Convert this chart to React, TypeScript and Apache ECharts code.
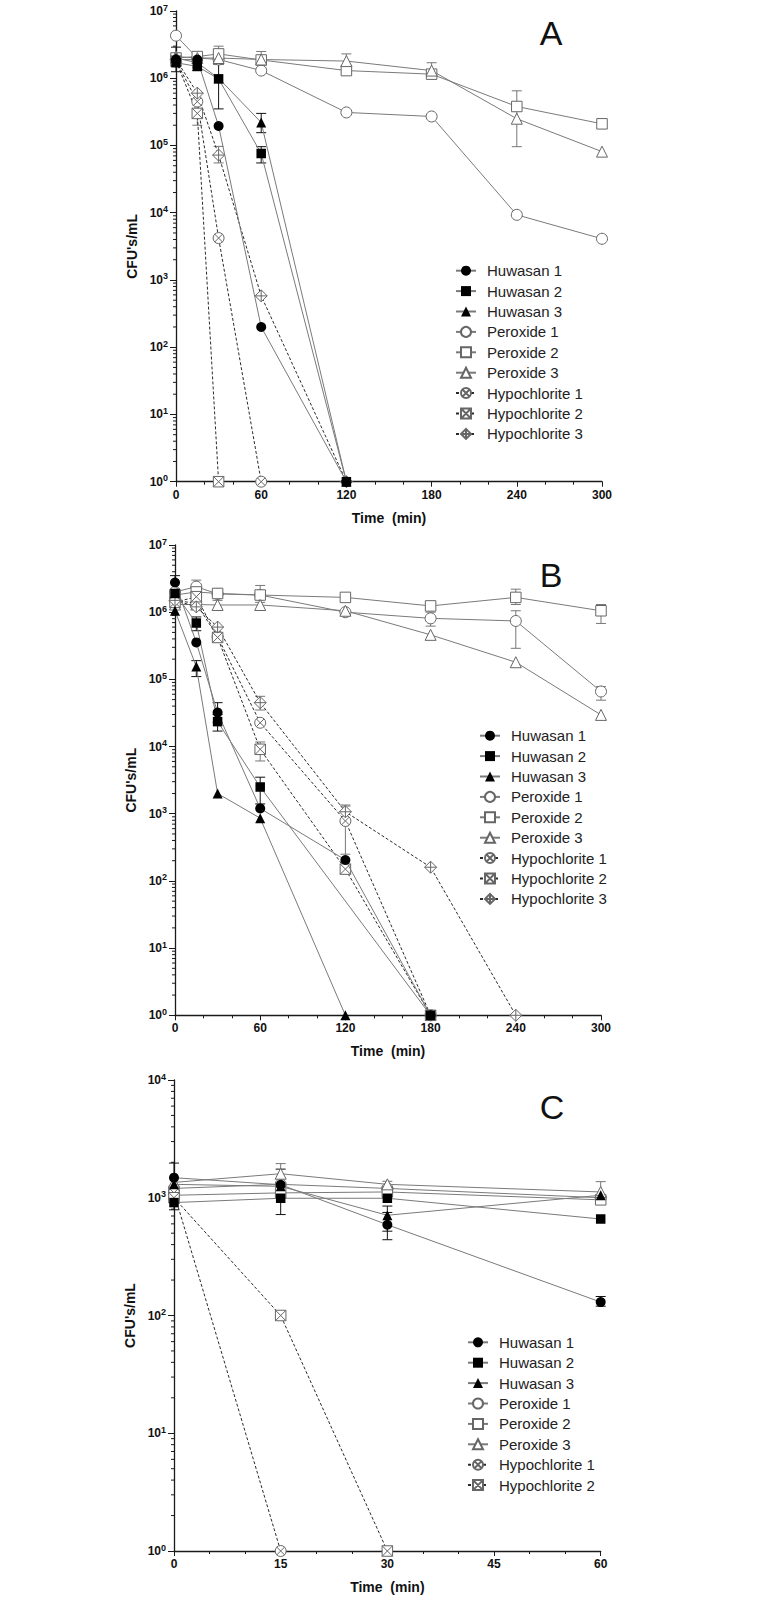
import React, { useEffect, useRef } from 'react';
import * as echarts from 'echarts';

const FONT = '"Liberation Sans", Arial, Helvetica, sans-serif';

const SERIES_NAMES = ['Huwasan 1', 'Huwasan 2', 'Huwasan 3', 'Peroxide 1', 'Peroxide 2', 'Peroxide 3', 'Hypochlorite 1', 'Hypochlorite 2', 'Hypochlorite 3'];
const SERIES_NAMES_C = ['Huwasan 1', 'Huwasan 2', 'Huwasan 3', 'Peroxide 1', 'Peroxide 2', 'Peroxide 3', 'Hypochlorite 1', 'Hypochlorite 2'];
const PANEL_LABELS = ['A', 'B', 'C'];
const X_AXIS_NAME = 'Time  (min)';
const Y_AXIS_NAME = "CFU's/mL";

// ---------- Panel A ----------
const timesA = [0, 15, 30, 60, 120, 180, 240, 300];
const huwasan1A = [1.9e6, 1.9e6, 1.95e5, 200, 1, null, null, null];
const huwasan2A = [1.7e6, 1.5e6, 9.8e5, 7.6e4, 1, null, null, null];
const huwasan3A = [2.0e6, 1.7e6, 1.0e6, 2.2e5, 1, null, null, null];
const peroxide1A = [4.3e6, 2.0e6, 1.9e6, 1.3e6, 3.1e5, 2.7e5, 9.3e3, 4.1e3];
const peroxide2A = [2.0e6, 2.1e6, 2.3e6, 1.87e6, 1.3e6, 1.15e6, 3.8e5, 2.1e5];
const peroxide3A = [2.1e6, 2.0e6, 2.0e6, 1.9e6, 1.8e6, 1.3e6, 2.5e5, 8.1e4];
const hypochlorite1A = [1.8e6, 4.5e5, 4.2e3, 1, null, null, null, null];
const hypochlorite2A = [1.8e6, 3.0e5, 1, null, null, null, null, null];
const hypochlorite3A = [1.9e6, 6.0e5, 7.2e4, 580, 1, null, null, null];
// [series, time, low, high]
const errorsA: [string, number, number, number][] = [
  ['Huwasan 2', 0, 1.25e6, 2.9e6],
  ['Huwasan 1', 15, 1.3e6, 2.2e6],
  ['Hypochlorite 2', 15, 2.0e5, 4.0e5],
  ['Peroxide 2', 30, 1.6e6, 3.0e6],
  ['Huwasan 2', 30, 3.5e5, 1.6e6],
  ['Hypochlorite 3', 30, 5.5e4, 9.7e4],
  ['Peroxide 2', 60, 1.4e6, 2.5e6],
  ['Huwasan 3', 60, 1.55e5, 3.0e5],
  ['Huwasan 2', 60, 5.5e4, 9.6e4],
  ['Peroxide 3', 120, 1.3e6, 2.3e6],
  ['Peroxide 2', 180, 1.0e6, 1.7e6],
  ['Peroxide 2', 240, 9.6e4, 6.5e5],
];

// ---------- Panel B ----------
const timesB = [0, 15, 30, 60, 120, 180, 240, 300];
const huwasan1B = [2.77e6, 3.55e5, 3.2e4, 1.2e3, 2.05e2, 1, null, null];
const huwasan2B = [1.9e6, 6.9e5, 2.35e4, 2.5e3, null, 1, null, null];
const huwasan3B = [1.05e6, 1.55e5, 2.0e3, 8.6e2, 1, null, null, null];
const peroxide1B = [2.0e6, 2.4e6, 1.87e6, 1.8e6, 1.0e6, 8.1e5, 7.4e5, 6.6e4];
const peroxide2B = [1.8e6, 2.0e6, 1.9e6, 1.8e6, 1.66e6, 1.24e6, 1.66e6, 1.05e6];
const peroxide3B = [1.3e6, 1.3e6, 1.28e6, 1.28e6, 1.05e6, 4.6e5, 1.8e5, 2.96e4];
const hypochlorite1B = [1.5e6, 1.35e6, 4.3e5, 2.26e4, 7.8e2, 1, null, null];
const hypochlorite2B = [1.4e6, 1.7e6, 4.2e5, 9.1e3, 1.5e2, 1, null, null];
const hypochlorite3B = [1.5e6, 1.2e6, 6.0e5, 4.5e4, 1.07e3, 1.6e2, 1, null];
const errorsB: [string, number, number, number][] = [
  ['Huwasan 1', 0, 2.1e6, 3.5e6],
  ['Peroxide 1', 15, 1.8e6, 3.0e6],
  ['Huwasan 2', 15, 5.3e5, 8.5e5],
  ['Huwasan 3', 15, 1.1e5, 1.9e5],
  ['Peroxide 1', 30, 1.5e6, 2.2e6],
  ['Huwasan 1', 30, 2.3e4, 4.5e4],
  ['Huwasan 2', 30, 1.7e4, 3.0e4],
  ['Peroxide 2', 60, 1.4e6, 2.5e6],
  ['Hypochlorite 3', 60, 3.5e4, 5.6e4],
  ['Hypochlorite 2', 60, 6.1e3, 1.17e4],
  ['Huwasan 2', 60, 1.4e3, 3.5e3],
  ['Hypochlorite 3', 120, 8.0e2, 1.35e3],
  ['Hypochlorite 1', 120, 2.5e2, 1.3e3],
  ['Peroxide 1', 180, 6.2e5, 1.0e6],
  ['Peroxide 2', 240, 1.3e6, 2.2e6],
  ['Peroxide 1', 240, 2.9e5, 1.05e6],
  ['Peroxide 2', 300, 6.8e5, 1.3e6],
  ['Peroxide 1', 300, 4.9e4, 7.8e4],
];

// ---------- Panel C ----------
const timesC = [0, 15, 30, 60];
const huwasan1C = [1.48e3, 1.29e3, 5.9e2, 1.3e2];
const huwasan2C = [9.1e2, 9.9e2, 9.9e2, 6.6e2];
const huwasan3C = [1.3e3, 1.25e3, 7.1e2, 1.05e3];
const peroxide1C = [1.2e3, 1.3e3, 1.2e3, 1.0e3];
const peroxide2C = [1.05e3, 1.1e3, 1.12e3, 9.6e2];
const peroxide3C = [1.35e3, 1.6e3, 1.3e3, 1.12e3];
const hypochlorite1C = [1.1e3, 1, null, null];
const hypochlorite2C = [1.0e3, 100, 1, null];
const errorsC: [string, number, number, number][] = [
  ['Huwasan 1', 0, 1.2e3, 1.97e3],
  ['Huwasan 2', 0, 7.9e2, 1.05e3],
  ['Peroxide 3', 15, 1.3e3, 1.95e3],
  ['Huwasan 1', 15, 1.1e3, 1.75e3],
  ['Huwasan 2', 15, 7.2e2, 1.25e3],
  ['Peroxide 1', 30, 1.15e3, 1.38e3],
  ['Huwasan 1', 30, 4.4e2, 7.5e2],
  ['Huwasan 3', 30, 5.2e2, 8.5e2],
  ['Peroxide 3', 60, 8.9e2, 1.37e3],
  ['Huwasan 1', 60, 1.2e2, 1.45e2],
];

// x-axis ticks
const xMaxA = 300, xStepA = 60;
const xMaxB = 300, xStepB = 60;
const xMaxC = 60, xStepC = 15;
const yMaxA = 1e7, yMaxB = 1e7, yMaxC = 1e4;

// ---------- styles ----------
const CIRCLE_X = 'path://M10,0A10,10,0,1,1,10,20A10,10,0,1,1,10,0ZM2.93,2.93L17.07,17.07M17.07,2.93L2.93,17.07';
const SQUARE_X = 'path://M0,0L20,0L20,20L0,20ZM0,0L20,20M20,0L0,20';
const DIAMOND_PLUS = 'path://M10,0L20,10L10,20L0,10ZM10,0L10,20M0,10L20,10';

const STYLE: Record<string, { symbol: string; size: number; filled: boolean; dashed: boolean }> = {
  'Huwasan 1': { symbol: 'circle', size: 10, filled: true, dashed: false },
  'Huwasan 2': { symbol: 'rect', size: 9.5, filled: true, dashed: false },
  'Huwasan 3': { symbol: 'triangle', size: 10, filled: true, dashed: false },
  'Peroxide 1': { symbol: 'circle', size: 11, filled: false, dashed: false },
  'Peroxide 2': { symbol: 'rect', size: 10.5, filled: false, dashed: false },
  'Peroxide 3': { symbol: 'triangle', size: 11, filled: false, dashed: false },
  'Hypochlorite 1': { symbol: CIRCLE_X, size: 11, filled: false, dashed: true },
  'Hypochlorite 2': { symbol: SQUARE_X, size: 10.5, filled: false, dashed: true },
  'Hypochlorite 3': { symbol: DIAMOND_PLUS, size: 12, filled: false, dashed: true },
};

const GRIDS = [
  { left: 176, top: 11, width: 426, height: 470.7 },
  { left: 175, top: 545, width: 426, height: 470.3 },
  { left: 174, top: 1080, width: 426.7, height: 471 },
];
const LEGEND_POS = [
  { left: 450, top: 257.7 },
  { left: 474, top: 722.7 },
  { left: 462, top: 1329.3 },
];
const LABEL_POS = [
  { x: 551, y: 33 },
  { x: 551, y: 575 },
  { x: 552, y: 1107 },
];

const AXIS_COLOR = '#1a1a1a';

function buildOption() {
  const panels = [
    {
      times: timesA, xMax: xMaxA, xStep: xStepA, yMax: yMaxA, errors: errorsA, names: SERIES_NAMES,
      values: [huwasan1A, huwasan2A, huwasan3A, peroxide1A, peroxide2A, peroxide3A, hypochlorite1A, hypochlorite2A, hypochlorite3A],
    },
    {
      times: timesB, xMax: xMaxB, xStep: xStepB, yMax: yMaxB, errors: errorsB, names: SERIES_NAMES,
      values: [huwasan1B, huwasan2B, huwasan3B, peroxide1B, peroxide2B, peroxide3B, hypochlorite1B, hypochlorite2B, hypochlorite3B],
    },
    {
      times: timesC, xMax: xMaxC, xStep: xStepC, yMax: yMaxC, errors: errorsC, names: SERIES_NAMES_C,
      values: [huwasan1C, huwasan2C, huwasan3C, peroxide1C, peroxide2C, peroxide3C, hypochlorite1C, hypochlorite2C],
    },
  ];

  const grid: any[] = [];
  const xAxis: any[] = [];
  const yAxis: any[] = [];
  const series: any[] = [];
  const legend: any[] = [];
  const graphic: any[] = [];

  panels.forEach((p, pi) => {
    grid.push({ ...GRIDS[pi], outerBoundsMode: 'none', containLabel: false });
    xAxis.push({
      gridIndex: pi, type: 'value', min: 0, max: p.xMax, interval: p.xStep,
      axisLine: { show: true, onZero: false, lineStyle: { color: AXIS_COLOR, width: 1.3 } },
      axisTick: { show: true, length: 5, lineStyle: { color: AXIS_COLOR, width: 1 } },
      minorTick: { show: true, splitNumber: 3, length: 3, lineStyle: { color: AXIS_COLOR, width: 1 } },
      splitLine: { show: false }, minorSplitLine: { show: false },
      axisLabel: { fontFamily: FONT, fontWeight: 'bold', fontSize: 12, color: '#111', margin: 7 },
      name: X_AXIS_NAME, nameLocation: 'middle', nameGap: 29,
      nameTextStyle: { fontFamily: FONT, fontWeight: 'bold', fontSize: 14, color: '#111' },
    });
    yAxis.push({
      gridIndex: pi, type: 'log', logBase: 10, min: 1, max: p.yMax,
      axisLine: { show: true, onZero: false, lineStyle: { color: AXIS_COLOR, width: 1.3 } },
      axisTick: { show: true, length: 6, lineStyle: { color: AXIS_COLOR, width: 1 } },
      splitLine: { show: false },
      axisLabel: {
        margin: 8,
        formatter: (v: number) => `{b|10}{s|${Math.round(Math.log10(v))}}`,
        rich: {
          b: { fontFamily: FONT, fontWeight: 'bold', fontSize: 12, color: '#111' },
          s: { fontFamily: FONT, fontWeight: 'bold', fontSize: 9, color: '#111', padding: [0, 0, 7, 0] },
        },
      },
      name: Y_AXIS_NAME, nameLocation: 'middle', nameGap: 33, nameRotate: 90,
      nameTextStyle: { fontFamily: FONT, fontWeight: 'bold', fontSize: 14, color: '#111' },
    });

    // minor log ticks on y axis
    const minorVals: number[][] = [];
    const decades = Math.round(Math.log10(p.yMax));
    for (let k = 0; k < decades; k++) {
      for (let m = 2; m <= 9; m++) minorVals.push([0, m * Math.pow(10, k)]);
    }
    series.push({
      type: 'custom', name: '_minor' + pi, xAxisIndex: pi, yAxisIndex: pi, silent: true, z: 1,
      data: minorVals, encode: { x: 0, y: 1 },
      renderItem: (_params: any, api: any) => {
        const pt = api.coord([api.value(0), api.value(1)]);
        return {
          type: 'line', shape: { x1: pt[0] - 3, y1: pt[1], x2: pt[0], y2: pt[1] },
          style: { stroke: AXIS_COLOR, lineWidth: 1 },
        };
      },
    });

    // error bars
    p.names.forEach((name) => {
      const errs = p.errors.filter((e) => e[0] === name).map((e) => [e[1], e[2], e[3]]);
      if (!errs.length) return;
      const st = STYLE[name];
      const color = st.filled ? '#111' : '#777';
      series.push({
        type: 'custom', name: '_err_' + name + pi, xAxisIndex: pi, yAxisIndex: pi, silent: true, z: 2,
        data: errs, encode: { x: 0, y: [1, 2] },
        renderItem: (_params: any, api: any) => {
          const t = api.value(0);
          const lo = api.coord([t, api.value(1)]);
          const hi = api.coord([t, api.value(2)]);
          const w = 5;
          const s = { stroke: color, lineWidth: 1 };
          return {
            type: 'group',
            children: [
              { type: 'line', shape: { x1: lo[0], y1: lo[1], x2: hi[0], y2: hi[1] }, style: s },
              { type: 'line', shape: { x1: lo[0] - w, y1: lo[1], x2: lo[0] + w, y2: lo[1] }, style: s },
              { type: 'line', shape: { x1: hi[0] - w, y1: hi[1], x2: hi[0] + w, y2: hi[1] }, style: s },
            ],
          };
        },
      });
    });

    // data series
    p.names.forEach((name, si) => {
      const st = STYLE[name];
      const vals = p.values[si];
      const data: number[][] = [];
      p.times.forEach((t, i) => {
        const v = vals[i];
        if (v !== null && v !== undefined) data.push([t, v]);
      });
      series.push({
        type: 'line', name, xAxisIndex: pi, yAxisIndex: pi, data,
        symbol: st.symbol, symbolSize: st.size, showAllSymbol: true,
        itemStyle: st.filled
          ? { color: '#000', borderColor: '#000', borderWidth: 0 }
          : { color: '#fff', borderColor: '#666', borderWidth: 1 },
        lineStyle: { color: st.dashed ? '#2a2a2a' : '#7a7a7a', width: 1, type: st.dashed ? [3, 2] : 'solid' },
        z: st.filled ? 4 : 3,
        emphasis: { disabled: true },
      });
    });

    legend.push({
      data: p.names, orient: 'vertical', ...LEGEND_POS[pi],
      itemWidth: 20, itemHeight: 12.5, itemGap: 4.4, selectedMode: false,
      textStyle: { fontFamily: FONT, fontSize: 15, color: '#222', lineHeight: 16, padding: [0, 0, 0, 6] },
    });

    graphic.push({
      type: 'text', x: LABEL_POS[pi].x, y: LABEL_POS[pi].y, silent: true,
      style: { text: PANEL_LABELS[pi], fontFamily: FONT, fontSize: 34, fill: '#111', align: 'center', verticalAlign: 'middle' },
    });
  });

  return {
    animation: false,
    backgroundColor: '#fff',
    grid, xAxis, yAxis, series, legend, graphic,
  };
}

export default function App() {
  const ref = useRef<HTMLDivElement>(null);
  useEffect(() => {
    document.body.style.margin = '0';
    if (!ref.current) return;
    const chart = echarts.init(ref.current, undefined, { renderer: 'svg' });
    chart.setOption(buildOption() as any);
    return () => chart.dispose();
  }, []);
  return <div ref={ref} style={{ width: 761, height: 1599 }} />;
}
